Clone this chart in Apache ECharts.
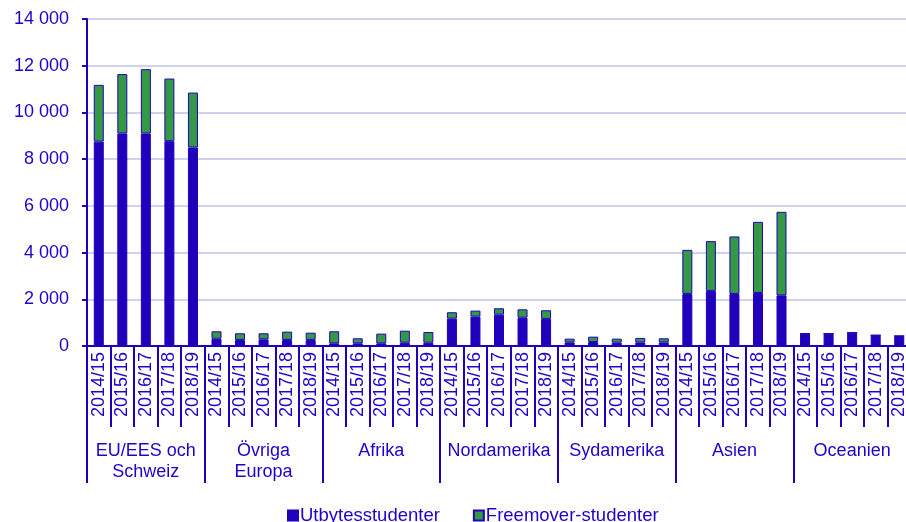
<!DOCTYPE html>
<html>
<head>
<meta charset="utf-8">
<script src="https://cdn.jsdelivr.net/npm/echarts@6/dist/echarts.min.js"></script>
<style>
html,body{margin:0;padding:0;background:#fff;}
#chart{width:906px;height:522px;}
</style>
</head>
<body>
<div id="chart"></div>
<script>
const years = ['2014/15','2015/16','2016/17','2017/18','2018/19'];
const regions = ['EU/EES och\nSchweiz','Övriga\nEuropa','Afrika','Nordamerika','Sydamerika','Asien','Oceanien'];
const yTicks = [0,2000,4000,6000,8000,10000,12000,14000];
const seriesNames = ['Utbytesstudenter','Freemover-studenter'];
const utbytesstudenter = [
  8750, 9100, 9100, 8770, 8500,
  310, 260, 285, 260, 260,
  115, 115, 115, 140, 140,
  1170, 1260, 1340, 1210, 1160,
  155, 170, 145, 155, 155,
  2230, 2360, 2230, 2270, 2170,
  530, 530, 570, 460, 430
];
const freemoverStudenter = [
  2430, 2540, 2750, 2680, 2350,
  320, 285, 260, 355, 310,
  515, 215, 415, 515, 460,
  275, 255, 275, 360, 370,
  160, 230, 170, 190, 175,
  1885, 2130, 2460, 3045, 3575,
  0, 0, 0, 0, 0
];

const categories = [];
regions.forEach(() => years.forEach(y => categories.push(y)));

const txt = '#2200CC';
const axisBlue = '#2200BB';
const font = 'Liberation Sans, Arial, sans-serif';

const chart = echarts.init(document.getElementById('chart'));
chart.setOption({
  animation: false,
  textStyle: { fontFamily: font },
  grid: { left: 87, top: 19, right: -5, bottom: 176, containLabel: false, outerBoundsMode: 'none' },
  legend: {
    data: seriesNames,
    left: 282, top: 501,
    itemWidth: 10, itemHeight: 10, itemGap: 33,
    icon: 'rect',
    textStyle: { color: txt, fontSize: 18.5, fontFamily: font, padding: [0,0,0,-3] }
  },
  xAxis: [
    {
      type: 'category', data: categories, position: 'bottom',
      axisLine: { show: true, lineStyle: { color: axisBlue, width: 2 } },
      axisTick: { show: true, interval: 0, length: 81, lineStyle: { color: axisBlue, width: 2 } },
      axisLabel: { interval: 0, rotate: 90, margin: 6, color: txt, fontSize: 18, fontFamily: font }
    },
    {
      type: 'category', data: regions, position: 'bottom',
      axisLine: { show: false },
      axisTick: { show: true, interval: 0, length: 137, lineStyle: { color: axisBlue, width: 2 } },
      axisLabel: { interval: 0, margin: 95, color: txt, fontSize: 18, lineHeight: 21, fontFamily: font }
    }
  ],
  yAxis: {
    type: 'value', min: 0, max: 14000, interval: 2000,
    axisLine: { show: true, lineStyle: { color: axisBlue, width: 2 } },
    axisTick: { show: true, length: 5, lineStyle: { color: axisBlue, width: 2 } },
    splitLine: { lineStyle: { color: '#D2D2F0', width: 2 } },
    axisLabel: {
      color: txt, fontSize: 18, margin: 18, fontFamily: font,
      formatter: v => yTicks.includes(v) ? String(v).replace(/\B(?=(\d{3})+(?!\d))/g, ' ') : ''
    }
  },
  series: [
    {
      name: seriesNames[0], type: 'bar', stack: 'total', xAxisIndex: 0,
      data: utbytesstudenter, barWidth: 10,
      itemStyle: { color: '#2000BB', borderColor: '#2000BB', borderWidth: 1 }
    },
    {
      name: seriesNames[1], type: 'bar', stack: 'total', xAxisIndex: 0,
      data: freemoverStudenter, barWidth: 10,
      itemStyle: { color: '#339944', borderColor: '#2200BB', borderWidth: 1 }
    }
  ]
});
</script>
</body>
</html>
